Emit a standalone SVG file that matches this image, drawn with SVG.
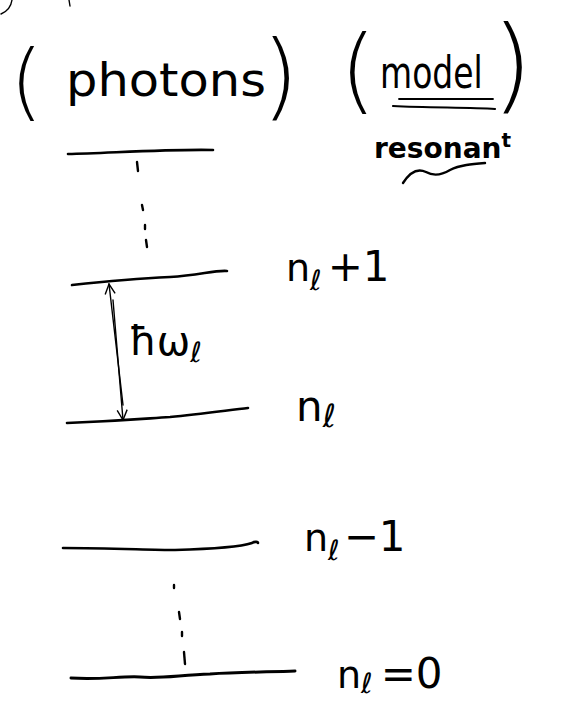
<svg xmlns="http://www.w3.org/2000/svg" width="586" height="701" viewBox="0 0 586 701">
  <style>
    .ink { fill: none; stroke: #000; stroke-linecap: round; stroke-linejoin: round; }
    .level { stroke-width: 2.6; }
    .thin { stroke-width: 1.4; }
    .dots { stroke-width: 2.4; }
    .hand { font-family: "DejaVu Sans", "Noto Sans", sans-serif; fill: #000; }
    .label { font-size: 38px; }
    .sub { font-size: 28px; }
    .paren { font-family: "DejaVu Sans", sans-serif; font-weight: 200; fill: #000; }
  </style>
  <defs>
    <marker id="head" viewBox="0 0 12 12" refX="11" refY="6" markerWidth="12" markerHeight="12" markerUnits="userSpaceOnUse" orient="auto">
      <path d="M1,1 L11,6 L1,11" fill="none" stroke="#000" stroke-width="1.4"/>
    </marker>
  </defs>
  <rect width="586" height="701" fill="#fff"/>

  <!-- stray strokes at the top edge -->
  <path class="ink thin" d="M1,14 C6,12 11,7 12,0"/>
  <path class="ink thin" d="M69,0 L70,6"/>

  <!-- header: (photons) -->
  <g id="photons-header">
    <text class="paren" x="10" y="110" font-size="84">(</text>
    <text class="hand" x="66" y="96" font-size="46" textLength="200" lengthAdjust="spacingAndGlyphs">photons</text>
    <text class="paren" x="262" y="108" font-size="94">)</text>
  </g>

  <!-- header: (mode l) with the resonant note -->
  <g id="mode-header">
    <text class="paren" x="340" y="102" font-size="92">(</text>
    <text class="hand" font-size="33" transform="translate(380,88) scale(1,1.32)">model</text>
    <text class="paren" x="492" y="100" font-size="104">)</text>
    <path class="ink" stroke-width="1.8" d="M399,99 L493,99"/>
    <path class="ink" stroke-width="2.2" d="M393,106 C430,108 470,107 495,109"/>
    <text class="hand" x="374" y="158" font-size="28" font-weight="bold">resonan<tspan font-size="20" dy="-11">t</tspan></text>
    <path class="ink" stroke-width="2.4" d="M403,183 C410,172 418,168 426,172 C433,176 440,176 450,170 C460,165 472,164 485,163"/>
  </g>

  <!-- energy levels -->
  <g id="level-top">
    <path class="ink level" d="M68,154 C110,153 170,149 213,150"/>
  </g>
  <g id="level-nl-plus-1">
    <path class="ink level" d="M72,285 C110,281 130,279 170,277 C200,275 215,270 227,271"/>
    <text class="hand label" x="286" y="281">n<tspan class="sub" dy="9">ℓ</tspan><tspan dy="-9" dx="6" font-size="42">+1</tspan></text>
  </g>
  <g id="level-nl">
    <path class="ink level" d="M67,423 C120,421 140,419 170,417 C200,414 230,410 248,408"/>
    <text class="hand" x="296" y="421" font-size="42">n<tspan font-size="32" dy="6">ℓ</tspan></text>
  </g>
  <g id="level-nl-minus-1">
    <path class="ink level" d="M63,548 C110,548 150,550 175,550 C210,549 240,547 252,543 C255,541 258,542 258,543"/>
    <text class="hand label" x="304" y="551">n<tspan class="sub" dy="9">ℓ</tspan><tspan dy="-9" dx="4" font-size="42">−1</tspan></text>
  </g>
  <g id="level-ground">
    <path class="ink" stroke-width="3" d="M71,678 C100,680 120,676 140,677 C160,679 180,675 210,674 C240,672 270,672 295,671"/>
    <text class="hand label" x="337" y="688">n<tspan class="sub" dy="5">ℓ</tspan><tspan dy="-5" dx="8" font-size="42">=0</tspan></text>
  </g>

  <!-- connectors: ellipsis marks and the quantum spacing arrow -->
  <g id="connectors">
    <path class="ink dots" d="M137,162 L138,171"/>
    <path class="ink dots" d="M142,205 L143,210"/>
    <path class="ink dots" d="M145,225 L145,229"/>
    <path class="ink dots" d="M146,240 L147,247"/>
    <path class="ink dots" d="M174,585 L174,588"/>
    <path class="ink dots" d="M179,612 L180,619"/>
    <path class="ink dots" d="M182,632 L182,636"/>
    <path class="ink dots" d="M184,652 L185,664"/>
    <path class="ink thin" d="M113,300 L123,420" marker-end="url(#head)"/>
    <path class="ink thin" d="M123,405 L109,284" marker-end="url(#head)"/>
    <text class="hand" x="129" y="355" font-size="40">ħω<tspan font-size="28" dy="7">ℓ</tspan></text>
  </g>
</svg>
